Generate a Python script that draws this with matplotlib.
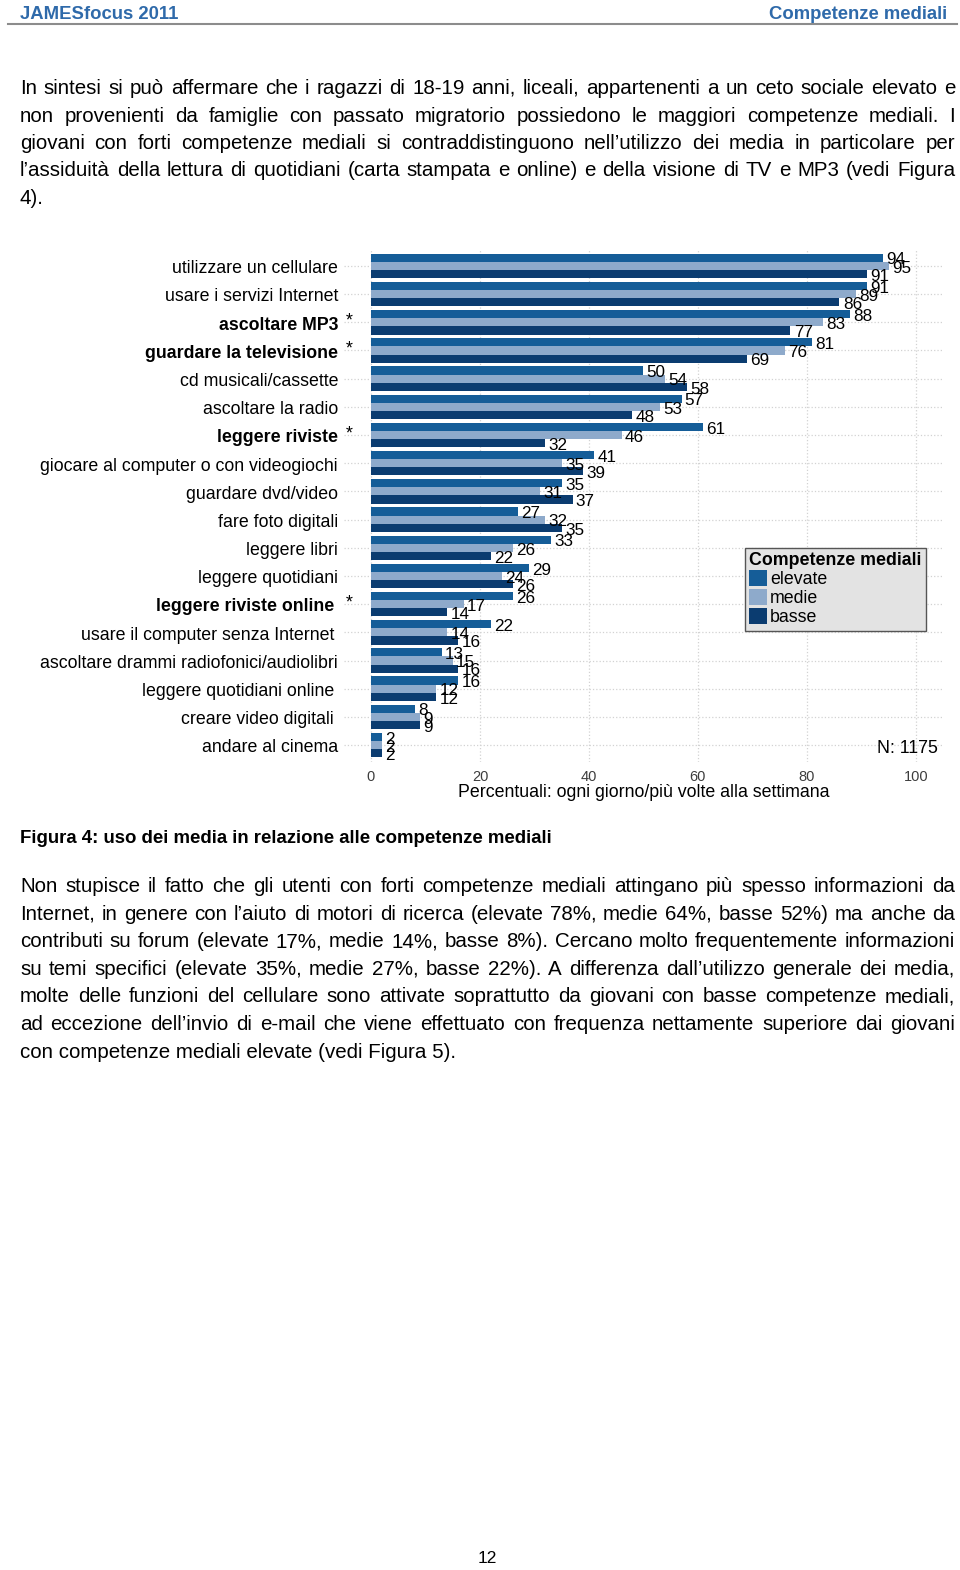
import matplotlib
matplotlib.use("Agg")
import matplotlib.pyplot as plt

plt.rcParams['font.family'] = ['Liberation Sans', 'DejaVu Sans']

W, H = 960, 1570

# %% dati del grafico (Figura 4)
categorie = ["utilizzare un cellulare", "usare i servizi Internet", "ascoltare MP3",
             "guardare la televisione", "cd musicali/cassette", "ascoltare la radio",
             "leggere riviste", "giocare al computer o con videogiochi", "guardare dvd/video",
             "fare foto digitali", "leggere libri", "leggere quotidiani",
             "leggere riviste online", "usare il computer senza Internet",
             "ascoltare drammi radiofonici/audiolibri", "leggere quotidiani online",
             "creare video digitali", "andare al cinema"]
elevate = [94, 91, 88, 81, 50, 57, 61, 41, 35, 27, 33, 29, 26, 22, 13, 16, 8, 2]
medie = [95, 89, 83, 76, 54, 53, 46, 35, 31, 32, 26, 24, 17, 14, 15, 12, 9, 2]
basse = [91, 86, 77, 69, 58, 48, 32, 39, 37, 35, 22, 26, 14, 16, 16, 12, 9, 2]
gruppi = ["elevate", "medie", "basse"]
segnate = ["ascoltare MP3", "guardare la televisione", "leggere riviste", "leggere riviste online"]
spostate = ["leggere riviste online", "usare il computer senza Internet",
            "leggere quotidiani online", "creare video digitali"]
tick_x = [0, 20, 40, 60, 80, 100]
n_txt = "N: 1175"

# %% testo della pagina
par1 = ["In sintesi si può affermare che i ragazzi di 18-19 anni, liceali, appartenenti a un ceto sociale elevato e",
        "non provenienti da famiglie con passato migratorio possiedono le maggiori competenze mediali. I",
        "giovani con forti competenze mediali si contraddistinguono nell’utilizzo dei media in particolare per",
        "l’assiduità della lettura di quotidiani (carta stampata e online) e della visione di TV e MP3 (vedi Figura",
        "4)."]
par2 = ["Non stupisce il fatto che gli utenti con forti competenze mediali attingano più spesso informazioni da",
        "Internet, in genere con l’aiuto di motori di ricerca (elevate 78%, medie 64%, basse 52%) ma anche da",
        "contributi su forum (elevate 17%, medie 14%, basse 8%). Cercano molto frequentemente informazioni",
        "su temi specifici (elevate 35%, medie 27%, basse 22%). A differenza dall’utilizzo generale dei media,",
        "molte delle funzioni del cellulare sono attivate soprattutto da giovani con basse competenze mediali,",
        "ad eccezione dell’invio di e-mail che viene effettuato con frequenza nettamente superiore dai giovani",
        "con competenze mediali elevate (vedi Figura 5)."]
didascalia = "Figura 4: uso dei media in relazione alle competenze mediali"

colori = ['#155d98', '#8eaacb', '#0b3c70']


def px(x, y):
    return x / W, 1 - y / H


def paragrafo(fig, r, righe, y0, passo, x0=20, x1=955, size=14.8):
    # testo giustificato: parole posizionate una per una
    for k, riga in enumerate(righe):
        y = y0 + k * passo
        if k == len(righe) - 1:
            fig.text(*px(x0, y), riga, fontsize=size, va='baseline')
            continue
        parole = riga.split()
        tt = [fig.text(*px(0, y), p, fontsize=size, va='baseline') for p in parole]
        larg = [t.get_window_extent(r).width for t in tt]
        gap = (x1 - x0 - sum(larg)) / (len(parole) - 1)
        x = x0
        for t, w in zip(tt, larg):
            t.set_x(x / W)
            x += w + gap


fig = plt.figure(figsize=(W / 100, H / 100), dpi=100)
r = fig.canvas.get_renderer()

# %% intestazione
fig.text(*px(20, 19), "JAMESfocus 2011", fontsize=13.3, fontweight='bold',
         color='#2f6aaa', va='baseline')
fig.text(*px(947, 19), "Competenze mediali", fontsize=13.3, fontweight='bold',
         color='#2f6aaa', va='baseline', ha='right')
fig.add_artist(plt.Line2D([8 / W, 957 / W], [1 - 24 / H] * 2, color='#8c8c8c', lw=1.5))

paragrafo(fig, r, par1, 94, 27.5)
fig.text(*px(20, 843), didascalia, fontsize=13.4, fontweight='bold', va='baseline')
paragrafo(fig, r, par2, 892, 27.6)
fig.text(*px(487, 1563), "12", fontsize=12.5, ha='center', va='baseline')

# %% grafico
l, rr = 343.75, 943
t, b = 249, 762
ax = fig.add_axes([l / W, 1 - b / H, (rr - l) / W, (b - t) / H])
ax.set_xlim(-5, 105)
ax.set_ylim(len(categorie) - 0.4, -0.6)
for s in ax.spines.values():
    s.set_visible(False)

ypos = list(range(len(categorie)))
h = 0.29
barre = []
for j, (nome, valori) in enumerate(zip(gruppi, [elevate, medie, basse])):
    yy = [y + (j - 1) * h for y in ypos]
    bc = ax.barh(yy, valori, height=h, color=colori[j], label=nome, zorder=2)
    barre.append(bc)
    for y, v in zip(yy, valori):
        ax.text(v + 0.6, y + 0.08, str(v), fontsize=12.3, va='center', ha='left', zorder=3)

ax.set_xticks(tick_x)
ax.set_xticklabels([str(v) for v in tick_x], fontsize=10.5, color='#3d3d3d')
ax.tick_params(axis='x', length=0, pad=6)
ax.set_yticks(ypos)
ax.set_yticklabels([])
ax.tick_params(axis='y', length=0)
ax.grid(True, color='#d2d2d2', ls=':', lw=0.9, zorder=0)
ax.set_axisbelow(True)
ax.set_xlabel("Percentuali: ogni giorno/più volte alla settimana", fontsize=12.8, labelpad=0)

for y, c in zip(ypos, categorie):
    xx = -6.8 if c in spostate else -6.05
    peso = 'bold' if c in segnate else 'normal'
    ax.text(xx, y + 0.1, c, fontsize=12.8, fontweight=peso, ha='right', va='center', clip_on=False)
    if c in segnate:
        ax.text(-4.0, y - 0.05, "*", fontsize=12.8, ha='center', va='center', clip_on=False)

leg = ax.legend(handles=barre, title="Competenze mediali", loc='upper left',
                bbox_to_anchor=(px(745, 548)), bbox_transform=fig.transFigure,
                fontsize=12.8, title_fontproperties={'weight': 'bold', 'size': 12.8},
                alignment='left', handlelength=1.0, handleheight=1.0,
                handletextpad=0.15, labelspacing=0.05, borderpad=0.25,
                borderaxespad=0, fancybox=False, framealpha=1)
leg.get_frame().set_facecolor('#e3e3e3')
leg.get_frame().set_edgecolor('#555555')
leg.get_frame().set_linewidth(1)

fig.text(*px(938, 753), n_txt, fontsize=12.8, ha='right', va='baseline')

fig.savefig("out.png", dpi=100)
